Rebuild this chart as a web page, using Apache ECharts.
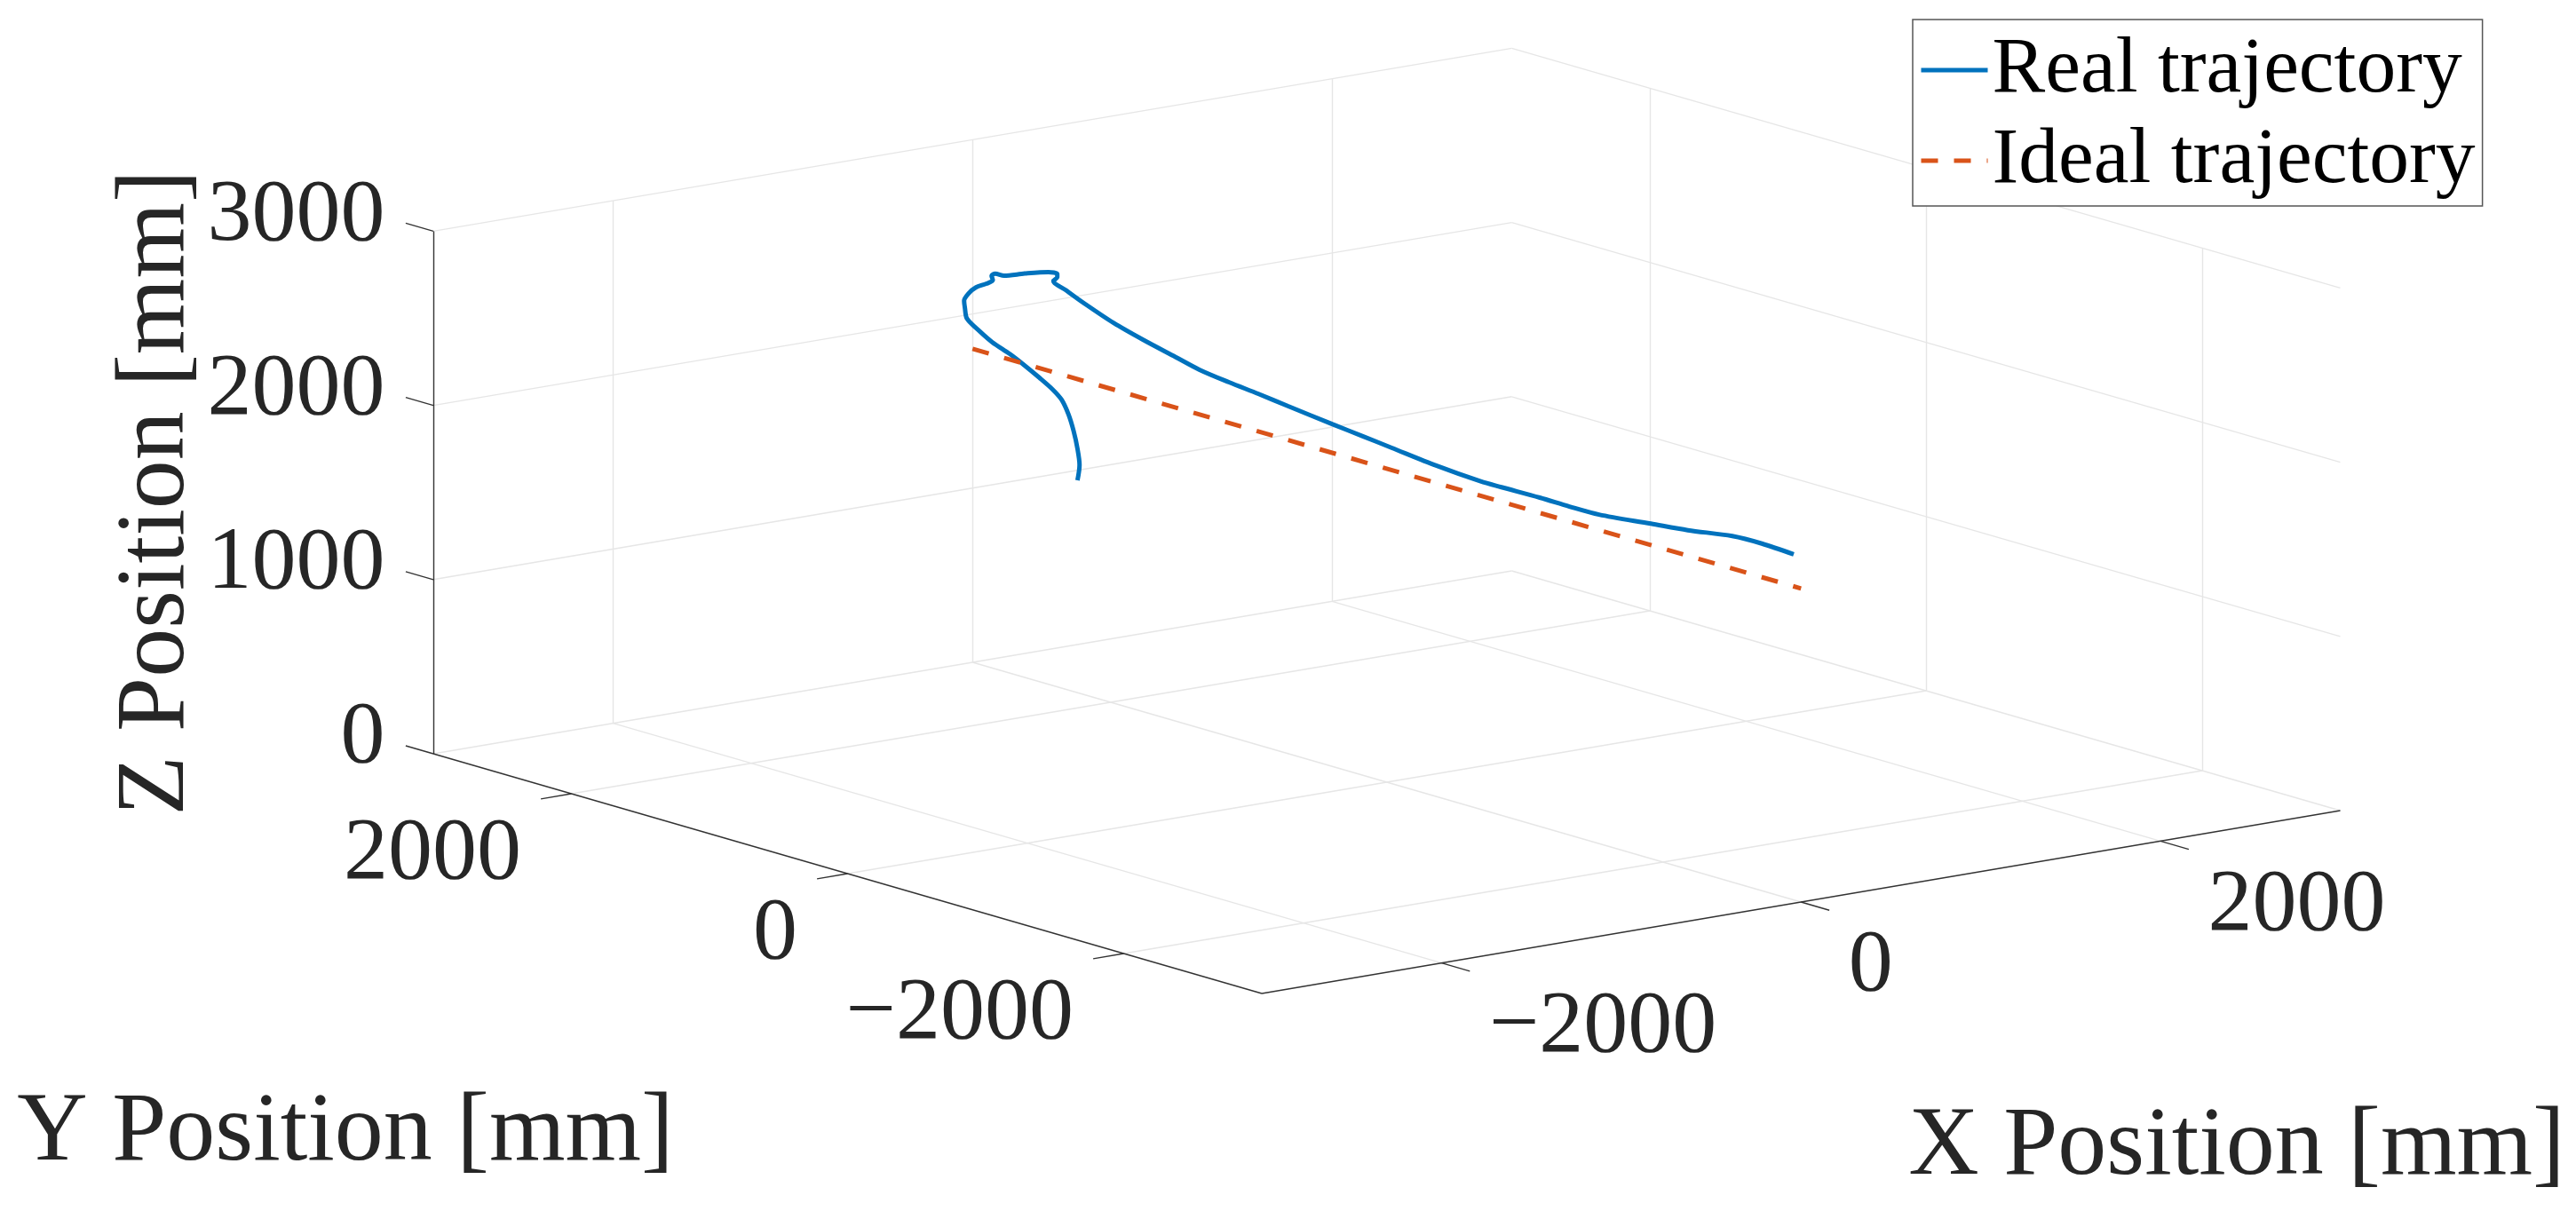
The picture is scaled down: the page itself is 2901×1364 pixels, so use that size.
<!DOCTYPE html>
<html>
<head>
<meta charset="utf-8">
<style>html,body{margin:0;padding:0;background:#fff}#c{width:2901px;height:1364px}</style>
<script src="https://cdn.jsdelivr.net/npm/echarts@6/dist/echarts.min.js"></script>
</head>
<body>
<div id="c"></div>
<script>
// ---- data (millimetres) ----
const xTicks = [-2000, 0, 2000];
const yTicks = [-2000, 0, 2000];
const zTicks = [0, 1000, 2000, 3000];
const xRange = [-3000, 3000];
const yRange = [-3000, 3000];
const zRange = [0, 3000];
const xTitle = 'X Position [mm]';
const yTitle = 'Y Position [mm]';
const zTitle = 'Z Position [mm]';
const realName = 'Real trajectory';
const idealName = 'Ideal trajectory';

const realX = [-100,-100,-100,-100,-100,-100,-100,-100,-100,-100,-100,-100,-100,-100,-100,-100,-100,-100,-100,-100,-100,-100,-100,-100,-100,-100,-100,-100,-100,-100,-100,
  50,50,50,50,50,50,50,50,50,50,50,50,50,50,50,50,50,50,50];
const realY = [2110,2095,2110,2138,2174,2224,2288,2385,2502,2599,2727,2813,2910,2925,2931,2899,2846,2770,2723,2732,2706,2642,2492,2320,2256,2256,2284,2192,2063,1849,1634,
  1594,1422,1208,993,779,457,243,28,-293,-615,-765,-1043,-1258,-1472,-1847,-2115,-2437,-2651,-2882];
const realZ = [1266,1358,1448,1543,1628,1702,1746,1792,1842,1879,1918,1957,2011,2068,2109,2158,2205,2244,2275,2299,2316,2319,2366,2414,2417,2399,2371,2338,2294,2230,2182,
  2066,2033,2010,1992,1971,1941,1923,1904,1876,1859,1860,1864,1862,1865,1899,1923,1963,1969,1960];

const idealX = [0, 0];
const idealY = [3000, -3000];
const idealZ = [1800, 1800];

// ---- orthographic view of the MATLAB axes box ----
const ORIGIN = [488, 849];           // x=-3000, y=+3000, z=0
const X_VEC = [1214.5 / 6000, -206 / 6000];
const Y_VEC = [-933 / 6000, -270 / 6000];
const Z_VEC = -196.2 / 1000;
function project(x, y, z) {
  const a = x - xRange[0], b = y - yRange[1];
  return [ORIGIN[0] + a * X_VEC[0] + b * Y_VEC[0],
          ORIGIN[1] + a * X_VEC[1] + b * Y_VEC[1] + z * Z_VEC];
}
const seg = (p, q) => ({ coords: [project(...p), project(...q)] });

const [x0, x1] = xRange, [y0, y1] = yRange, [z0, z1] = zRange;
const gridSegs = [];
xTicks.forEach(x => {
  gridSegs.push(seg([x, y1, 0], [x, y0, 0]));
  gridSegs.push(seg([x, y1, z0], [x, y1, z1]));
});
yTicks.forEach(y => {
  gridSegs.push(seg([x0, y, 0], [x1, y, 0]));
  gridSegs.push(seg([x1, y, z0], [x1, y, z1]));
});
zTicks.forEach(z => {
  gridSegs.push(seg([x0, y1, z], [x1, y1, z]));
  gridSegs.push(seg([x1, y1, z], [x1, y0, z]));
});

const axisSegs = [
  seg([x0, y0, 0], [x1, y0, 0]),
  seg([x0, y1, 0], [x0, y0, 0]),
  seg([x0, y1, z0], [x0, y1, z1])
];
const TICK_X = 205, TICK_Y = 170, TICK_Z = 200;
xTicks.forEach(x => axisSegs.push(seg([x, y0, 0], [x, y0 - TICK_X, 0])));
yTicks.forEach(y => axisSegs.push(seg([x0, y, 0], [x0 - TICK_Y, y, 0])));
zTicks.forEach(z => axisSegs.push(seg([x0, y1, z], [x0, y1 + TICK_Z, z])));

const fmt = v => String(v).replace('-', '\u2212');
const SERIF = '"Liberation Serif","Times New Roman",serif';
const INK = '#262626';
function tickLabels(points, values, position, offset) {
  return {
    type: 'scatter', silent: true, symbolSize: 1,
    itemStyle: { color: 'transparent', opacity: 1 },
    data: points.map((p, i) => ({
      value: p,
      label: { show: true, position, distance: 0, offset, formatter: fmt(values[i]),
               fontFamily: SERIF, fontSize: 100, color: INK }
    }))
  };
}

const series = [
  { type: 'lines', coordinateSystem: 'cartesian2d', silent: true, z: 1, data: gridSegs,
    lineStyle: { color: '#e6e6e6', width: 1.4, opacity: 1 } },
  { type: 'lines', coordinateSystem: 'cartesian2d', silent: true, z: 2, data: axisSegs,
    lineStyle: { color: '#333333', width: 1.4, opacity: 1 } },
  tickLabels(zTicks.map(z => project(x0, y1, z)), zTicks, 'left', [-54, -17]),
  tickLabels(yTicks.map(y => project(x0, y, 0)), yTicks, 'left', [-56, 69]),
  tickLabels(xTicks.map(x => project(x, y0, 0)), xTicks, 'right', [53, 73]),
  { name: realName, type: 'line', showSymbol: false, symbol: 'none', smooth: 0.3, z: 3,
    data: realX.map((x, i) => project(x, realY[i], realZ[i])),
    lineStyle: { color: '#0072BD', width: 5 }, itemStyle: { color: '#0072BD' } },
  { name: idealName, type: 'line', showSymbol: false, symbol: 'none', z: 3,
    data: idealX.map((x, i) => project(x, idealY[i], idealZ[i])),
    lineStyle: { color: '#D95319', width: 5, type: [19, 18], cap: 'butt' }, itemStyle: { color: '#D95319' } }
];

const titleStyle = { font: '110px ' + SERIF, fill: INK, textAlign: 'center', textVerticalAlign: 'middle' };
const chart = echarts.init(document.getElementById('c'), null, { renderer: 'canvas' });
chart.setOption({
  animation: false,
  backgroundColor: '#fff',
  grid: { left: 0, right: 0, top: 0, bottom: 0 },
  xAxis: { type: 'value', min: 0, max: 2901, show: false },
  yAxis: { type: 'value', min: 0, max: 1364, inverse: true, show: false },
  legend: {
    data: [realName, idealName],
    orient: 'vertical', left: 2154, top: 22, padding: [6, 8, 0, 7], itemGap: 0,
    itemWidth: 75, itemHeight: 20, selectedMode: false,
    backgroundColor: '#fff', borderColor: '#555', borderWidth: 1.5, borderRadius: 0,
    itemStyle: { opacity: 0 },
    lineStyle: { width: 5 },
    textStyle: { fontFamily: SERIF, fontSize: 89.5, color: '#000', lineHeight: 102 }
  },
  series,
  graphic: [
    { type: 'text', silent: true, x: 177, y: 555, rotation: Math.PI / 2, style: Object.assign({ text: zTitle }, titleStyle) },
    { type: 'text', silent: true, x: 389, y: 1277, style: Object.assign({ text: yTitle }, titleStyle) },
    { type: 'text', silent: true, x: 2519, y: 1293, style: Object.assign({ text: xTitle }, titleStyle) }
  ]
});
</script>
</body>
</html>
